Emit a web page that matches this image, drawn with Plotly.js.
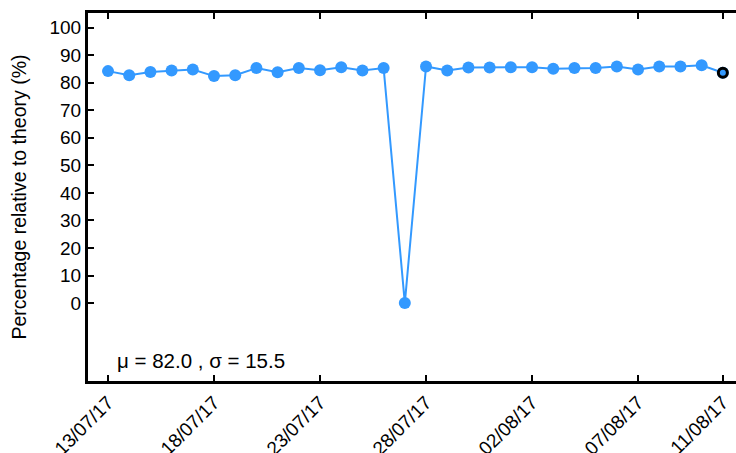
<!DOCTYPE html>
<html>
<head>
<meta charset="utf-8">
<script src="https://cdn.plot.ly/plotly-3.0.1.min.js"></script>
<style>html,body{margin:0;padding:0;background:#fff;}#chart{width:736px;height:453px;}</style>
</head>
<body>
<div id="chart"></div>
<script>
const dates = [
  "2017-07-13","2017-07-14","2017-07-15","2017-07-16","2017-07-17","2017-07-18","2017-07-19",
  "2017-07-20","2017-07-21","2017-07-22","2017-07-23","2017-07-24","2017-07-25","2017-07-26",
  "2017-07-27","2017-07-28","2017-07-29","2017-07-30","2017-07-31","2017-08-01","2017-08-02",
  "2017-08-03","2017-08-04","2017-08-05","2017-08-06","2017-08-07","2017-08-08","2017-08-09",
  "2017-08-10","2017-08-11"
];
const percentages = [
  84.2, 82.7, 83.9, 84.4, 84.8, 82.4, 82.7, 85.3, 83.8, 85.3, 84.5, 85.6, 84.4, 85.3,
  0.0,
  85.9, 84.4, 85.5, 85.5, 85.6, 85.6, 85.1, 85.3, 85.3, 85.9, 84.8, 85.9, 85.9, 86.3, 83.6
];
const tickDates = ["2017-07-13","2017-07-18","2017-07-23","2017-07-28","2017-08-02","2017-08-07","2017-08-11"];
const yTicks = [0,10,20,30,40,50,60,70,80,90,100];
const statsText = "\u03bc = 82.0 , \u03c3 = 15.5";
const yTitle = "Percentage relative to theory (%)";

const blue = "rgb(51,153,255)";
const font = "Liberation Sans, Arial, Helvetica, sans-serif";

const lastIdx = dates.length - 1;
const traces = [
  {
    x: dates, y: percentages, type: "scatter", mode: "lines+markers",
    line: {color: blue, width: 2},
    marker: {color: blue, size: 12},
    hoverinfo: "skip", showlegend: false
  },
  {
    x: [dates[lastIdx]], y: [percentages[lastIdx]], type: "scatter", mode: "markers",
    marker: {color: blue, size: 9, line: {color: "black", width: 3}},
    hoverinfo: "skip", showlegend: false
  }
];

const layout = {
  width: 736, height: 453,
  margin: {l: 88, r: 0, t: 13, b: 72, pad: 0},
  paper_bgcolor: "white", plot_bgcolor: "white",
  font: {family: font, size: 19, color: "black"},
  showlegend: false,
  xaxis: {
    type: "date",
    range: ["2017-07-12 01:21", "2017-08-11 14:53"],
    tickvals: tickDates,
    tickformat: "%d/%m/%y",
    tickangle: -45,
    ticks: "inside", ticklen: 6, tickwidth: 2, tickcolor: "black",
    showline: true, linecolor: "black", linewidth: 3,
    mirror: "ticks",
    showgrid: false, zeroline: false,
    tickfont: {family: font, size: 19, color: "black"}
  },
  yaxis: {
    range: [-28.3, 105.3],
    tickvals: yTicks,
    ticks: "inside", ticklen: 6, tickwidth: 2, tickcolor: "black",
    showline: true, linecolor: "black", linewidth: 3,
    mirror: false,
    showgrid: false, zeroline: false,
    tickfont: {family: font, size: 19, color: "black"},
    title: {text: yTitle, font: {family: font, size: 19.5, color: "black"}, standoff: 18}
  },
  annotations: [
    {
      text: statsText, xref: "paper", yref: "paper",
      x: 0.041, y: 0.057, xanchor: "left", yanchor: "middle",
      showarrow: false, font: {family: font, size: 20.5, color: "black"}
    }
  ]
};

Plotly.newPlot("chart", traces, layout, {staticPlot: true, displayModeBar: false});
</script>
</body>
</html>
